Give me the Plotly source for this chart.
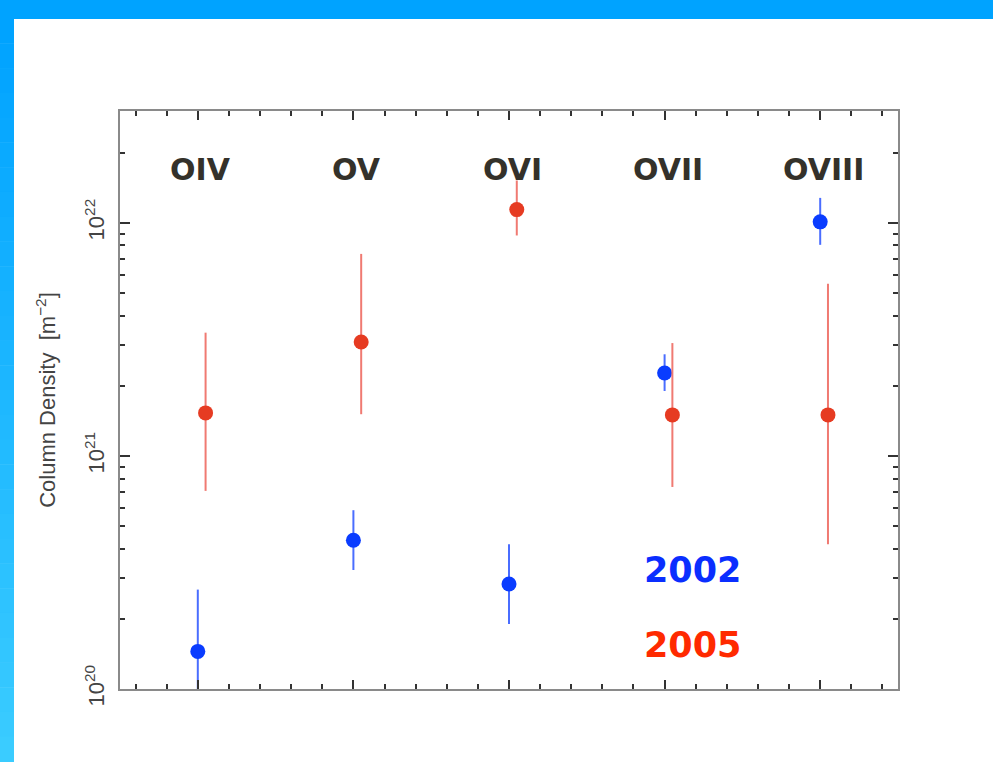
import math
import plotly.graph_objects as go

# ---------------- data ----------------
ions = ["OIV", "OV", "OVI", "OVII", "OVIII"]
ion_index = [1, 2, 3, 4, 5]

# 2002 (blue)
val_2002 = [1.45e20, 4.35e20, 2.82e20, 2.27e21, 1.01e22]
hi_2002 = [2.67e20, 5.85e20, 4.18e20, 2.73e21, 1.28e22]
lo_2002 = [1.0e20, 3.24e20, 1.90e20, 1.90e21, 8.05e21]

# 2005 (red)
val_2005 = [1.53e21, 3.08e21, 1.14e22, 1.50e21, 1.50e21]
hi_2005 = [3.38e21, 7.36e21, 1.52e22, 3.05e21, 5.48e21]
lo_2005 = [7.08e20, 1.51e21, 8.83e21, 7.36e20, 4.18e20]

ytick_vals = [1e20, 1e21, 1e22]
ytick_text = ["10<sup>20</sup>", "10<sup>21</sup>", "10<sup>22</sup>"]

ion_label_y = 1.7e22
year_labels = ["2002", "2005"]
year_label_y = [3.24e20, 1.55e20]
year_label_x = 4.18

# ---------------- styling ----------------
BLUE_DOT = "#0a3cff"
BLUE_BAR = "#4a6dff"
RED_DOT = "#e63b22"
RED_BAR = "#f07a72"
RED_OFFSET = 0.05

W, H = 993, 762
ML, MR, MT, MB = 120, W - 898, 111, H - 689


def px_x(px):
    return (px - ML) / (W - ML - MR)


def px_y(py):
    return (H - MB - py) / (H - MT - MB)


fig = go.Figure()

fig.add_trace(go.Scatter(
    x=ion_index, y=val_2002, mode="markers",
    marker=dict(color=BLUE_DOT, size=15),
    error_y=dict(type="data", symmetric=False,
                 array=[h - v for h, v in zip(hi_2002, val_2002)],
                 arrayminus=[v - l for v, l in zip(val_2002, lo_2002)],
                 color=BLUE_BAR, thickness=2, width=0),
    showlegend=False, name="2002"))

fig.add_trace(go.Scatter(
    x=[i + RED_OFFSET for i in ion_index], y=val_2005, mode="markers",
    marker=dict(color=RED_DOT, size=15),
    error_y=dict(type="data", symmetric=False,
                 array=[h - v for h, v in zip(hi_2005, val_2005)],
                 arrayminus=[v - l for v, l in zip(val_2005, lo_2005)],
                 color=RED_BAR, thickness=2, width=0),
    showlegend=False, name="2005"))

annotations = []
for i, name in zip(ion_index, ions):
    annotations.append(dict(
        x=i + 0.02, y=math.log10(ion_label_y), xref="x", yref="y", text=name,
        showarrow=False,
        font=dict(family="DejaVu Sans", size=30, color="#34312a", weight="bold"),
        xanchor="center", yanchor="middle"))

for txt, yy, col in zip(year_labels, year_label_y, ["#0a2eff", "#ff2a00"]):
    annotations.append(dict(
        x=year_label_x, y=math.log10(yy), xref="x", yref="y", text=txt,
        showarrow=False,
        font=dict(family="DejaVu Sans", size=35, color=col, weight="bold"),
        xanchor="center", yanchor="middle"))

# decorative frame of the slide
shapes = [dict(type="rect", xref="paper", yref="paper",
               x0=px_x(0), x1=px_x(W), y0=px_y(19), y1=px_y(0),
               fillcolor="#00a3ff", line=dict(width=0), layer="below")]
n = 30
for k in range(n):
    t = k / (n - 1)
    r = int(0x00 + t * (0x3a - 0x00))
    g = int(0xa3 + t * (0xcc - 0xa3))
    b = 255
    y0 = 19 + (H - 19) * k / n
    y1 = 19 + (H - 19) * (k + 1) / n
    shapes.append(dict(type="rect", xref="paper", yref="paper",
                       x0=px_x(0), x1=px_x(14), y0=px_y(y1), y1=px_y(y0 - 0.5),
                       fillcolor=f"rgb({r},{g},{b})", line=dict(width=0), layer="below"))

fig.update_layout(
    width=W, height=H,
    margin=dict(l=ML, r=MR, t=MT, b=MB, pad=0),
    paper_bgcolor="white", plot_bgcolor="white",
    annotations=annotations, shapes=shapes,
    font=dict(family="Liberation Sans", color="#444"),
)

fig.update_xaxes(
    range=[0.5, 5.5], tickmode="linear", tick0=1, dtick=1,
    showticklabels=False, showgrid=False, zeroline=False,
    ticks="inside", ticklen=9, tickwidth=1.5, tickcolor="#333",
    minor=dict(ticks="inside", ticklen=5, tickwidth=1.5, tickcolor="#333",
               tick0=0.6, dtick=0.2, showgrid=False),
    showline=True, linecolor="#8a8a8a", linewidth=2, mirror="ticks",
)

fig.update_yaxes(
    type="log", range=[20, 22.48],
    tickmode="array", tickvals=ytick_vals, ticktext=ytick_text,
    tickangle=-90, tickfont=dict(size=22, color="#444", family="Liberation Sans"),
    ticklabelstandoff=5,
    showgrid=False, zeroline=False,
    ticks="inside", ticklen=10, tickwidth=1.5, tickcolor="#333",
    minor=dict(ticks="inside", ticklen=5, tickwidth=1.5, tickcolor="#333",
               dtick="D1", showgrid=False),
    showline=True, linecolor="#8a8a8a", linewidth=2, mirror="ticks",
    title=dict(text="Column Density  [m<sup>\u22122</sup>]",
               font=dict(size=22, color="#444", family="Liberation Sans"),
               standoff=19),
)

fig.write_html("out.html", config={"displayModeBar": False},
               post_script="document.body.style.margin='0';")
